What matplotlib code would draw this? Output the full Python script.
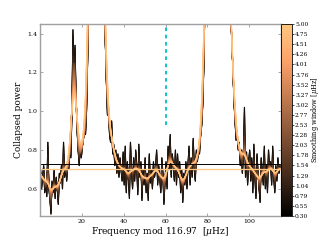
import matplotlib
matplotlib.use("Agg")
import matplotlib.pyplot as plt
import numpy as np
from matplotlib.colors import Normalize
from matplotlib.colorbar import ColorbarBase

plt.rcParams["font.family"] = ["DejaVu Serif"]
plt.rcParams["mathtext.fontset"] = "dejavuserif"

# Collapsed power spectrum, sampled every 0.5 uHz from 0.25 uHz
freq_start = 0.25
freq_step = 0.5
power = [
    0.70, 0.60, 0.66, 0.72, 0.58, 0.63, 0.56, 0.84, 0.60, 0.55,
    0.47, 0.64, 0.58, 0.70, 0.55, 0.66, 0.60, 0.52, 0.68, 0.63,
    0.72, 0.60, 0.84, 0.66, 0.72, 0.64, 0.74, 0.70, 0.82, 0.76,
    0.98, 1.42, 1.15, 1.34, 1.05, 0.90, 0.80, 0.72, 0.83, 0.76,
    0.82, 0.86, 0.90, 0.88, 1.00, 1.25, 1.60, 1.95, 2.40, 2.90,
    3.40, 3.90, 4.20, 4.40, 4.35, 4.10, 3.70, 3.20, 2.70, 2.20,
    1.85, 1.55, 1.35, 1.15, 0.98, 1.02, 0.88, 0.84, 0.95, 0.78,
    0.83, 0.72, 0.80, 0.68, 0.78, 0.66, 0.76, 0.70, 0.64, 0.79,
    0.62, 0.82, 0.58, 0.74, 0.66, 0.55, 0.84, 0.70, 0.60, 0.76,
    0.64, 0.80, 0.72, 0.57, 0.83, 0.66, 0.74, 0.54, 0.70, 0.62,
    0.76, 0.58, 0.68, 0.54, 0.78, 0.63, 0.70, 0.60, 0.74, 0.66,
    0.70, 0.80, 0.62, 0.72, 0.66, 0.58, 0.76, 0.68, 0.52, 0.64,
    0.74, 0.60, 0.82, 0.70, 0.88, 0.66, 0.78, 0.72, 0.64, 0.80,
    0.62, 0.78, 0.66, 0.74, 0.58, 0.70, 0.53, 0.68, 0.62, 0.74,
    0.60, 0.72, 0.82, 0.62, 0.76, 0.66, 0.86, 0.70, 0.64, 0.80,
    0.74, 0.80, 0.78, 0.88, 0.92, 1.02, 1.20, 1.48, 1.80, 2.15,
    2.55, 2.95, 3.35, 3.70, 4.00, 4.25, 4.45, 4.55, 4.60, 4.60,
    4.55, 4.45, 4.30, 4.10, 3.80, 3.45, 3.05, 2.65, 2.30, 2.00,
    1.78, 1.60, 1.48, 1.36, 1.20, 1.05, 0.95, 0.85, 0.90, 0.80,
    0.84, 0.72, 0.80, 0.68, 0.76, 1.02, 0.66, 0.79, 0.62, 0.74,
    0.80, 0.64, 0.76, 0.58, 0.83, 0.66, 0.55, 0.78, 0.68, 0.60,
    0.53, 0.76, 0.70, 0.62, 0.82, 0.60, 0.72, 0.58, 0.80, 0.70,
    0.74, 0.62, 0.82, 0.66, 0.58, 0.72, 0.64, 0.76, 0.68, 0.72,
    0.70,
]

# smoothing windows shown on the colorbar [uHz]
windows = np.linspace(0.30, 5.00, 20)

threshold_raw = 0.728
threshold_smooth = 0.700
marker_freq = 60.1
marker_bottom = 0.93
large_sep = 116.97


def smooth(y, width):
    # gaussian smoothing, width in uHz
    sigma = width / 4.0 / freq_step
    if sigma < 0.3:
        return y
    half = int(np.ceil(3 * sigma))
    k = np.exp(-0.5 * (np.arange(-half, half + 1) / sigma) ** 2)
    k /= k.sum()
    return np.convolve(np.pad(y, half, mode="edge"), k, mode="valid")


power = np.array(power)
freq = freq_start + freq_step * np.arange(len(power))

fig = plt.figure(figsize=(3.2, 2.4), dpi=100)
ax = fig.add_axes([0.125, 0.1, 0.753, 0.8])

cmap = plt.get_cmap("copper")
norm = Normalize(windows[0], windows[-1])
for w in windows:
    ax.plot(freq, smooth(power, w), color=cmap(norm(w)), lw=0.8)

ax.axhline(threshold_raw, color="k", lw=0.7)
ax.axhline(threshold_smooth, color=cmap(1.0), lw=0.9)
ax.vlines(marker_freq, marker_bottom, 1.6, color="c", lw=1.3,
          linestyles=(0, (2, 2)))

ax.set_xlim(0, 115.2)
ax.set_ylim(0.46, 1.45)
ax.set_yticks([0.6, 0.8, 1.0, 1.2, 1.4])
ax.set_xticks([20, 40, 60, 80, 100])
ax.tick_params(direction="in", length=2.5, width=0.6, color="#999999",
               labelsize=4.5, pad=2, top=True, right=True)
for s in ax.spines.values():
    s.set_color("#a0a0a0")
    s.set_linewidth(1.0)

ax.set_xlabel(f"Frequency mod {large_sep}  [$\\mu$Hz]", fontsize=6.5, labelpad=1)
ax.set_ylabel("Collapsed power", fontsize=6.5, labelpad=3)

cax = fig.add_axes([0.878, 0.1, 0.034, 0.8])
cb = ColorbarBase(cax, cmap=cmap, norm=norm, ticks=windows)
cb.ax.set_yticklabels([f"{w:.2f}" for w in windows])
cb.ax.tick_params(labelsize=4.3, length=1.5, width=0.5, pad=0.8)
cb.outline.set_linewidth(0.6)
cb.set_label("Smoothing window [$\\mu$Hz]", fontsize=4.8, labelpad=0)

fig.savefig("out.png", dpi=100)
